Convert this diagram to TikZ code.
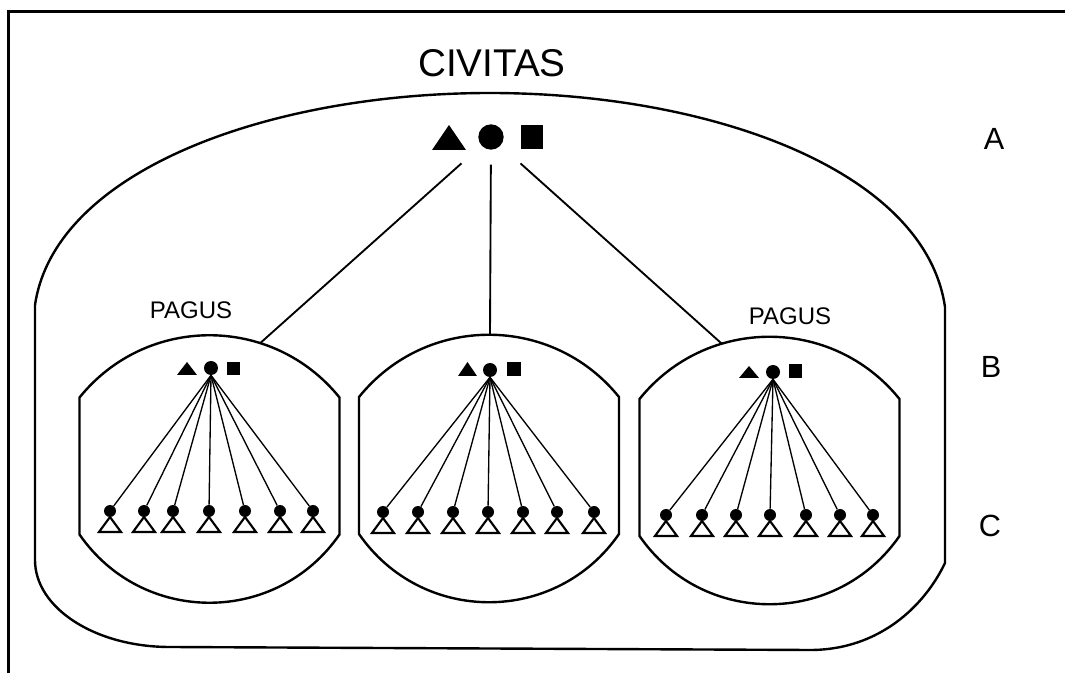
\documentclass[tikz,border=0pt]{standalone}
\usepackage{fontspec}
\setmainfont{Liberation Sans}
\begin{document}
\begin{tikzpicture}[x=0.75pt,y=-0.75pt,
  outline/.style={line width=1.8pt, line join=round},
  border/.style={line width=2.4pt},
  link/.style={line width=1.4pt},
  fanline/.style={line width=1pt},
  hub/.style={circle, fill=black, inner sep=0pt, minimum size=#1},
  hub/.default=10.5pt,
  leafdot/.style={circle, fill=black, inner sep=0pt, minimum size=9pt},
  leaftri/.style={line width=1.6pt, line join=miter},
  lbl/.style={inner sep=0pt, font=\fontsize{#1}{#1}\selectfont},
]
\useasboundingbox (0,0) rectangle (1065,673);

% page frame
\draw[border] (7,11.5) -- (1065,11.5);
\draw[border] (8.5,10) -- (8.5,673);

% civitas outline
\draw[outline] (35,305) .. controls (55,170) and (270,93) .. (490,93)
  .. controls (710,93) and (925,170) .. (945,307) -- (945,563)
  .. controls (925,605) and (880,650) .. (810,650) -- (170,647)
  .. controls (95,647) and (35,608) .. (35,560) -- cycle;

% pagus outlines: (centre x, top corner y)
\newcommand\pagusshape[2]{%
  \begin{scope}[shift={(#1,#2)}]
    \draw[outline] (-130,0) .. controls (-63,-83) and (63,-83) .. (130,0)
      -- (130,137) .. controls (67,228) and (-67,228) .. (-130,137) -- cycle;
  \end{scope}}
\pagusshape{209.5}{397.5}
\pagusshape{489}{397}
\pagusshape{769.5}{399}

% labels
\node[lbl=29pt] (civ) at (492,63) {CIVITAS};
\node[lbl=18pt] (pagL) at (191,310) {PAGUS};
\node[lbl=18pt] (pagR) at (790,316) {PAGUS};
\node[lbl=23pt] (lA) at (994,139) {A};
\node[lbl=23pt] (lB) at (991,367) {B};
\node[lbl=23pt] (lC) at (990,526) {C};

% top level symbols
\fill (432,150) -- (466,150) -- (449,125) -- cycle;
\node[hub=19pt] (top) at (491,137) {};
\fill (521,125) rectangle (543,149);

% pagus symbols
\fill (177,375) -- (197,375) -- (187,362) -- cycle;
\node[hub] (pcL) at (211,368) {};
\fill (227,362) rectangle (240,375);

\fill (458,376) -- (477,376) -- (467.5,362) -- cycle;
\node[hub] (pcM) at (490,370) {};
\fill (507,362) rectangle (521,376);

\fill (739,378) -- (759,378) -- (749,366) -- cycle;
\node[hub] (pcR) at (773,372) {};
\fill (789,364) rectangle (802,378);

% links from civitas to pagi
\coordinate (inL) at (260,343.3);
\coordinate (inM) at (490,335);
\coordinate (inR) at (722,343.9);
\draw[link, shorten <=20pt] (top) -- (inL);
\draw[link, shorten <=11pt] (top) -- (inM);
\draw[link, shorten <=20pt] (top) -- (inR);

% settlements in each pagus
\foreach \x [count=\i] in {110,144,173,209,245,280,313} {
  \node[leafdot] (L\i) at (\x,511) {};
  \draw[leaftri] (\x,517) -- ++(11,15) -- ++(-22,0) -- cycle;
  \draw[fanline] (pcL.south) -- (L\i);
}
\foreach \x [count=\i] in {383,418,453,488,523,557,594} {
  \node[leafdot] (M\i) at (\x,512) {};
  \draw[leaftri] (\x,518) -- ++(11,15) -- ++(-22,0) -- cycle;
  \draw[fanline] (pcM.south) -- (M\i);
}
\foreach \x [count=\i] in {666,702,736,770,806,840,873} {
  \node[leafdot] (R\i) at (\x,515) {};
  \draw[leaftri] (\x,521) -- ++(11,15) -- ++(-22,0) -- cycle;
  \draw[fanline] (pcR.south) -- (R\i);
}
\end{tikzpicture}
\end{document}
